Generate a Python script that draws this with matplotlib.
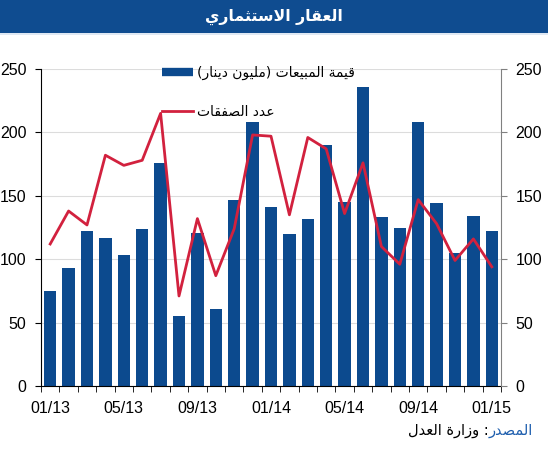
import numpy as np
import matplotlib
matplotlib.use('Agg')
import matplotlib.pyplot as plt
from matplotlib.lines import Line2D
from matplotlib.patches import Rectangle

# ---------------- data ----------------
months = ['01/13', '02/13', '03/13', '04/13', '05/13', '06/13', '07/13', '08/13',
          '09/13', '10/13', '11/13', '12/13', '01/14', '02/14', '03/14', '04/14',
          '05/14', '06/14', '07/14', '08/14', '09/14', '10/14', '11/14', '12/14', '01/15']
sales = [75, 93, 122, 117, 103, 124, 176, 55, 121, 61, 147, 208, 141, 120, 132, 190,
         145, 236, 133, 125, 208, 144, 105, 134, 122]
deals = [112, 138, 127, 182, 174, 178, 215, 71, 132, 87, 124, 198, 197, 135, 196, 187,
         136, 176, 110, 96, 147, 128, 99, 116, 94]
shown_ticks = ['01/13', '05/13', '09/13', '01/14', '05/14', '09/14', '01/15']
y_ticks = [0, 50, 100, 150, 200, 250]

title_txt = 'العقار الاستثماري'
sales_lbl = 'قيمة المبيعات (مليون دينار)'
deals_lbl = 'عدد الصفقات'
src_a = 'المصدر'
src_b = ': وزارة العدل'

# ---------------- simple Arabic shaping (presentation forms + visual order) ----------------
FORMS = {
    '\u0627': (0xFE8D, 0xFE8E, None, None),
    '\u0628': (0xFE8F, 0xFE90, 0xFE91, 0xFE92),
    '\u0629': (0xFE93, 0xFE94, None, None),
    '\u062A': (0xFE95, 0xFE96, 0xFE97, 0xFE98),
    '\u062B': (0xFE99, 0xFE9A, 0xFE9B, 0xFE9C),
    '\u062C': (0xFE9D, 0xFE9E, 0xFE9F, 0xFEA0),
    '\u062D': (0xFEA1, 0xFEA2, 0xFEA3, 0xFEA4),
    '\u062E': (0xFEA5, 0xFEA6, 0xFEA7, 0xFEA8),
    '\u062F': (0xFEA9, 0xFEAA, None, None),
    '\u0630': (0xFEAB, 0xFEAC, None, None),
    '\u0631': (0xFEAD, 0xFEAE, None, None),
    '\u0632': (0xFEAF, 0xFEB0, None, None),
    '\u0633': (0xFEB1, 0xFEB2, 0xFEB3, 0xFEB4),
    '\u0634': (0xFEB5, 0xFEB6, 0xFEB7, 0xFEB8),
    '\u0635': (0xFEB9, 0xFEBA, 0xFEBB, 0xFEBC),
    '\u0636': (0xFEBD, 0xFEBE, 0xFEBF, 0xFEC0),
    '\u0637': (0xFEC1, 0xFEC2, 0xFEC3, 0xFEC4),
    '\u0638': (0xFEC5, 0xFEC6, 0xFEC7, 0xFEC8),
    '\u0639': (0xFEC9, 0xFECA, 0xFECB, 0xFECC),
    '\u063A': (0xFECD, 0xFECE, 0xFECF, 0xFED0),
    '\u0641': (0xFED1, 0xFED2, 0xFED3, 0xFED4),
    '\u0642': (0xFED5, 0xFED6, 0xFED7, 0xFED8),
    '\u0643': (0xFED9, 0xFEDA, 0xFEDB, 0xFEDC),
    '\u0644': (0xFEDD, 0xFEDE, 0xFEDF, 0xFEE0),
    '\u0645': (0xFEE1, 0xFEE2, 0xFEE3, 0xFEE4),
    '\u0646': (0xFEE5, 0xFEE6, 0xFEE7, 0xFEE8),
    '\u0647': (0xFEE9, 0xFEEA, 0xFEEB, 0xFEEC),
    '\u0648': (0xFEED, 0xFEEE, None, None),
    '\u0649': (0xFEEF, 0xFEF0, None, None),
    '\u064A': (0xFEF1, 0xFEF2, 0xFEF3, 0xFEF4),
}


def shape(text):
    ch = list(text)
    n = len(ch)
    out = []
    dual = lambda c: c in FORMS and FORMS[c][2] is not None
    i = 0
    while i < n:
        c = ch[i]
        if c not in FORMS:
            out.append(c)
            i += 1
            continue
        prev = ch[i - 1] if i > 0 else None
        jp = prev is not None and dual(prev)
        if c == '\u0644' and i + 1 < n and ch[i + 1] == '\u0627':
            out.append(chr(0xFEFC if jp else 0xFEFB))
            i += 2
            continue
        nxt = ch[i + 1] if i + 1 < n else None
        jn = dual(c) and nxt is not None and nxt in FORMS
        iso, fin, ini, med = FORMS[c]
        g = med if (jp and jn) else fin if jp else ini if jn else iso
        out.append(chr(g))
        i += 1
    vis = ''.join(reversed(out))
    return vis.translate(str.maketrans('()', ')('))


# ---------------- style ----------------
W, H = 548, 450
plt.rcParams['font.family'] = ['Liberation Sans', 'DejaVu Sans']
BLUE = '#0c4a8e'
RED = '#d2213e'

fig = plt.figure(figsize=(W / 100, H / 100), dpi=100)
fig.patch.set_facecolor('white')

# banner
fig.patches.append(Rectangle((0, 1 - 33 / H), 1, 33 / H, transform=fig.transFigure,
                             facecolor='#0f4c90', edgecolor='none'))
fig.patches.append(Rectangle((0, 1 - 35 / H), 1, 2 / H, transform=fig.transFigure,
                             facecolor='#dfe8f3', edgecolor='none'))
fig.text(0.5, 1 - 17 / H, shape(title_txt), color='white', fontsize=11.3,
         fontweight='bold', ha='center', va='center', family=['DejaVu Sans'])

ax = fig.add_axes([41 / W, 1 - 386 / H, (501 - 41) / W, (386 - 69) / H])
x = np.arange(len(months))
ax.bar(x, sales, width=0.68, color=BLUE, zorder=2)
ax.set_xlim(-0.5, len(months) - 0.5)
ax.set_ylim(0, 250)
ax.set_yticks(y_ticks)
ax.yaxis.grid(True, color='#dcdcdc', lw=0.8, zorder=0)
ax.set_axisbelow(True)

ax2 = ax.twinx()
ax2.plot(x, deals, color=RED, lw=2.0, zorder=3)
ax2.set_ylim(0, 250)
ax2.set_yticks(y_ticks)

for a in (ax, ax2):
    a.spines['top'].set_visible(False)
ax.spines['right'].set_visible(False)
ax2.spines['left'].set_visible(False)
ax2.spines['bottom'].set_visible(False)
ax2.spines['right'].set_color('#808080')
ax.spines['left'].set_color('black')
ax.spines['bottom'].set_color('black')

pos = [months.index(m) for m in shown_ticks]
ax.set_xticks(pos)
ax.set_xticklabels(shown_ticks)
ax.set_xticks(np.arange(-0.5, len(months), 1), minor=True)
ax.tick_params(axis='x', which='major', length=0, pad=11, labelsize=11.5)
ax.tick_params(axis='x', which='minor', length=4, direction='out', color='black')
ax.tick_params(axis='y', length=4.5, direction='out', pad=6, labelsize=11.5, color='black')
ax2.tick_params(axis='y', length=4.5, direction='out', pad=6, labelsize=11.5, color='#808080')

handles = [Line2D([], [], color=BLUE, lw=6, solid_capstyle='butt'),
           Line2D([], [], color=RED, lw=2.0)]
leg = fig.legend(handles, [shape(sales_lbl), shape(deals_lbl)], loc='upper left',
                 bbox_to_anchor=(162 / W, 1 - 66 / H), frameon=False,
                 handlelength=2.2, handletextpad=0.3,
                 labelspacing=1.8, borderpad=0, borderaxespad=0,
                 prop={'family': ['DejaVu Sans'], 'size': 10})

# source
ys = 1 - 435 / H
t_blue = fig.text(533 / W, ys, shape(src_a), color='#1f5fae', fontsize=10.5,
                  ha='right', va='baseline', family=['DejaVu Sans'])
fig.canvas.draw()
bb = t_blue.get_window_extent()
fig.text(bb.x0 / fig.bbox.width, ys, shape(src_b), color='black', fontsize=10.5,
         ha='right', va='baseline', family=['DejaVu Sans'])

fig.savefig('out.png', dpi=100)
